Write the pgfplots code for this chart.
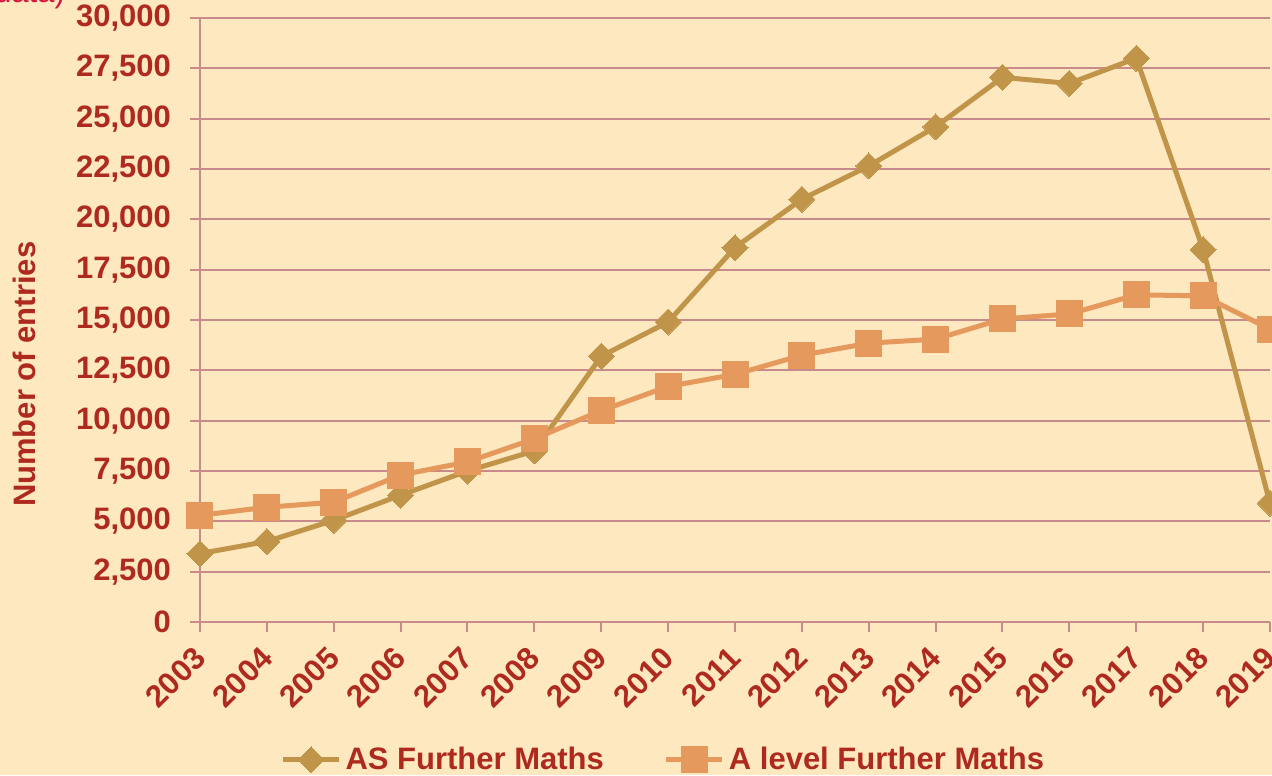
\documentclass[border=0pt]{standalone}
\usepackage{pgfplots}
\pgfplotsset{compat=1.18}
\usepackage{fontspec}
\setmainfont{Liberation Sans}
\usetikzlibrary{backgrounds}
\definecolor{bgc}{HTML}{FEE8BF}
\definecolor{textc}{HTML}{AE2A1F}
\definecolor{gridc}{HTML}{C98A8C}
\definecolor{asc}{HTML}{C0954A}
\definecolor{alc}{HTML}{E6995C}
\definecolor{redc}{HTML}{D4163C}
\newcommand{\lf}{\fontsize{15.5}{18}\bfseries\selectfont}
\begin{document}
\begin{tikzpicture}
\begin{axis}[
  name=ax,
  scale only axis,
  width=535pt, height=302pt,
  xmin=2003, xmax=2019, ymin=0, ymax=30000,
  xtick={2003,...,2019},
  ytick={0,2500,...,30000},
  axis x line*=bottom, axis y line*=left,
  axis line style={draw=gridc, line width=1pt, -},
  ymajorgrids, grid style={draw=gridc, line width=1pt},
  tick style={draw=gridc, line width=1pt},
  tick align=outside,
  major tick length=5pt,
  clip=false,
  /pgf/number format/assume math mode=true,
  yticklabel style={/pgf/number format/1000 sep={,}, font=\lf, text=textc, xshift=-6pt},
  xticklabel style={/pgf/number format/1000 sep={}, font=\lf, text=textc, xshift=2.5pt, rotate=45, anchor=east},
  xticklabel shift=8pt,
  scaled y ticks=false,
  legend style={at={(axis description cs:0.434,-0.228)}, anchor=center, draw=none, fill=none,
    font=\lf, text=textc, /tikz/every even column/.append style={column sep=28pt}},
  legend columns=2,
  legend image code/.code={\draw[mark repeat=2,mark phase=2] plot coordinates {(0pt,0pt) (14pt,0pt) (28pt,0pt)};},
]
\addplot[color=asc, line width=2.5pt, mark=square*, mark size=4.6pt, mark options={rotate=45, fill=asc, draw=asc, line width=0pt}] coordinates {
(2003,3400) (2004,4000) (2005,5050) (2006,6300) (2007,7500) (2008,8500) (2009,13200) (2010,14900) (2011,18600) (2012,21000) (2013,22650) (2014,24600) (2015,27050) (2016,26750) (2017,28000) (2018,18500) (2019,5900)};
\addlegendentry{AS Further Maths}
\addplot[color=alc, line width=2.5pt, mark=square*, mark size=6.5pt, mark options={fill=alc, draw=alc, line width=0pt}] coordinates {
(2003,5300) (2004,5700) (2005,5950) (2006,7300) (2007,7950) (2008,9100) (2009,10500) (2010,11700) (2011,12300) (2012,13250) (2013,13850) (2014,14050) (2015,15050) (2016,15300) (2017,16250) (2018,16200) (2019,14550)};
\addlegendentry{A level Further Maths}
\node[rotate=90, font=\lf, text=textc] at (axis description cs:-0.164,0.41) {Number of entries};
\end{axis}
\node[anchor=base east, text=redc, font=\fontsize{15.5}{18}\selectfont] at ([xshift=-64pt,yshift=7.5pt]ax.north west) {(provisional data)};
\pgfresetboundingbox
\path[use as bounding box] ([xshift=-100pt,yshift=-76.5pt]ax.south west) rectangle ([xshift=1pt,yshift=9pt]ax.north east);
\begin{pgfonlayer}{background}
\fill[bgc] ([xshift=-100pt,yshift=-76.5pt]ax.south west) rectangle ([xshift=1pt,yshift=9pt]ax.north east);
\end{pgfonlayer}
\end{tikzpicture}
\end{document}
